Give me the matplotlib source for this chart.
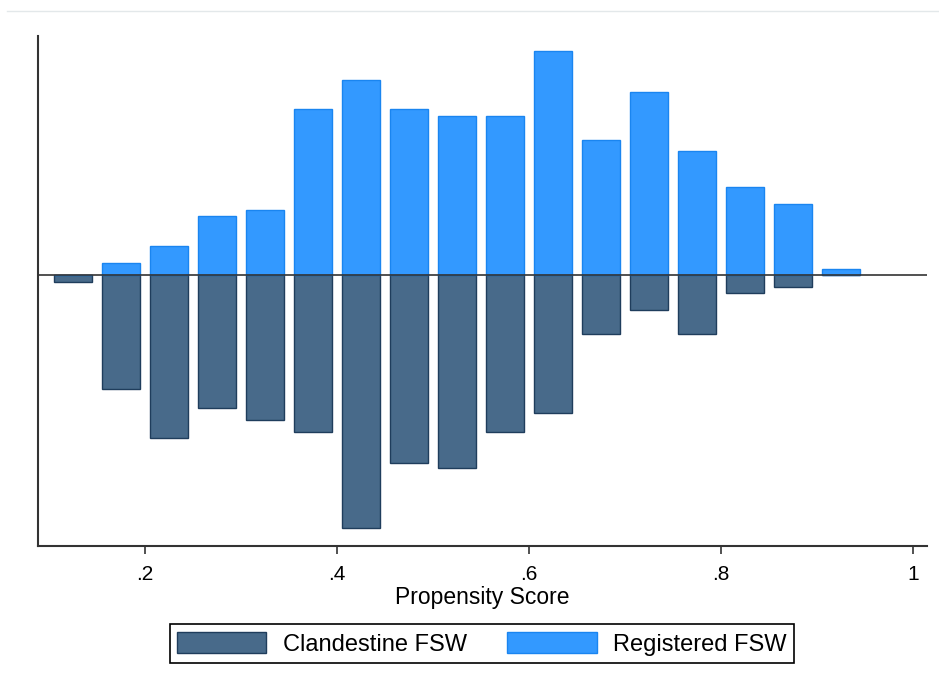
import matplotlib.pyplot as plt
from matplotlib.lines import Line2D

plt.rcParams['font.family'] = ['Liberation Sans', 'DejaVu Sans']

# bin midpoints of the propensity score (bin width .05)
bin_mid = [0.125, 0.175, 0.225, 0.275, 0.325, 0.375, 0.425, 0.475, 0.525,
           0.575, 0.625, 0.675, 0.725, 0.775, 0.825, 0.875, 0.925]

# densities
registered = [0.00, 0.13, 0.32, 0.64, 0.71, 1.80, 2.12, 1.80, 1.73,
              1.73, 2.43, 1.47, 1.99, 1.35, 0.96, 0.77, 0.07]
clandestine = [0.08, 1.24, 1.77, 1.45, 1.58, 1.71, 2.75, 2.04, 2.10,
               1.71, 1.50, 0.64, 0.38, 0.64, 0.20, 0.13, 0.00]

xticks = [0.2, 0.4, 0.6, 0.8, 1.0]
xtick_labels = ['.2', '.4', '.6', '.8', '1']

fig = plt.figure(figsize=(9.39, 6.93), dpi=100)
ax = fig.add_axes([38 / 939, 1 - 546 / 693, 889 / 939, 510 / 693])

w = 0.039
ax.bar(bin_mid, [-c for c in clandestine], width=w, color='#486a8a',
       edgecolor='#1f3d5c', linewidth=1, label='Clandestine FSW', zorder=2)
ax.bar(bin_mid, registered, width=w, color='#3399ff',
       edgecolor='#1a85f0', linewidth=1, label='Registered FSW', zorder=2)
ax.axhline(0, color='#333333', linewidth=1.2, zorder=3)

ax.set_xlim(0.0885, 1.0146)
ax.set_ylim(-2.946, 2.598)
ax.set_xticks(xticks)
ax.set_xticklabels(xtick_labels)
ax.set_yticks([])
ax.tick_params(axis='x', direction='out', length=6, width=1.2,
               labelsize=15, pad=8, colors='#333333', labelcolor='black')
ax.set_xlabel('Propensity Score', fontsize=16.5, labelpad=1)

for s in ['top', 'right']:
    ax.spines[s].set_visible(False)
for s in ['left', 'bottom']:
    ax.spines[s].set_color('#333333')
    ax.spines[s].set_linewidth(1.5)

leg = fig.legend(loc='center', bbox_to_anchor=(0.513, 0.0714), ncol=2,
                 fontsize=17, frameon=True, fancybox=False, edgecolor='black',
                 framealpha=1, handlelength=3.8, handleheight=1.05,
                 handletextpad=0.7, columnspacing=1.7, borderpad=0.3)
leg.get_frame().set_linewidth(1.2)

# faint border line at the top of the picture
fig.add_artist(Line2D([7 / 939, 1], [1 - 11 / 693, 1 - 11 / 693],
                      color='#e3e8ea', linewidth=1, transform=fig.transFigure))

fig.savefig('out.png', dpi=100)
